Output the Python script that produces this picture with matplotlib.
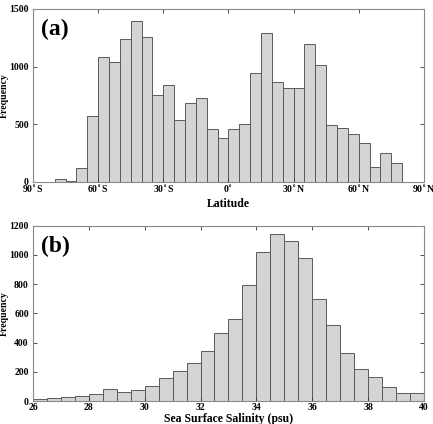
import numpy as np
import matplotlib.pyplot as plt

plt.rcParams['font.family'] = ['Liberation Serif', 'DejaVu Serif']
plt.rcParams['font.weight'] = 'bold'

# latitude histogram, 5 degree bins from 80S to 80N
lat_edges = np.arange(-80, 81, 5)
lat_counts = [26, 9, 124, 571, 1082, 1044, 1237, 1399, 1258, 756, 842, 539,
              681, 727, 456, 381, 462, 505, 943, 1289, 865, 813, 813, 1199,
              1015, 493, 470, 412, 335, 130, 248, 167]
lat_ticks = [-90, -60, -30, 0, 30, 60, 90]
lat_labels = ['90$^{\\circ}$S', '60$^{\\circ}$S', '30$^{\\circ}$S', '0$^{\\circ}$',
              '30$^{\\circ}$N', '60$^{\\circ}$N', '90$^{\\circ}$N']

# salinity histogram, 0.5 psu bins
sss_edges = np.arange(26, 40.01, 0.5)
sss_counts = [16, 23, 30, 37, 50, 80, 62, 73, 103, 155, 205, 258, 342, 465,
              561, 794, 1020, 1141, 1093, 979, 700, 518, 331, 221, 167, 96, 57, 57]

fig = plt.figure(figsize=(4.33, 4.24), dpi=100)
ax1 = fig.add_axes([0.0762, 0.5708, 0.9028, 0.408])
ax2 = fig.add_axes([0.0762, 0.0542, 0.9028, 0.4135])

def style(ax):
    ax.tick_params(direction='in', top=True, right=True, labelsize=7,
                   length=3, width=0.6, colors='#333333')
    ax.tick_params(axis='x', pad=1.5)
    ax.tick_params(axis='y', pad=3)
    for s in ax.spines.values():
        s.set_color('#888888')
        s.set_linewidth(0.8)
    for lab in ax.get_xticklabels() + ax.get_yticklabels():
        lab.set_fontweight('bold')
        lab.set_color('black')

centers = (lat_edges[:-1] + lat_edges[1:]) / 2
ax1.hist(centers, bins=lat_edges, weights=lat_counts, color='#d4d4d4',
         edgecolor='#5a5a5a', linewidth=0.7)
ax1.set_xlim(-90, 90)
ax1.set_ylim(0, 1500)
ax1.set_xticks(lat_ticks)
ax1.set_xticklabels(lat_labels)
ax1.set_yticks([0, 500, 1000, 1500])
ax1.set_xlabel('Latitude', fontsize=8.5, fontweight='bold', labelpad=1)
ax1.set_ylabel('Frequency', fontsize=7, fontweight='bold', labelpad=0.5)
ax1.text(0.02, 0.94, '(a)', transform=ax1.transAxes, fontsize=17,
         fontweight='bold', va='top', ha='left')
style(ax1)

centers2 = (sss_edges[:-1] + sss_edges[1:]) / 2
ax2.hist(centers2, bins=sss_edges, weights=sss_counts, color='#d4d4d4',
         edgecolor='#5a5a5a', linewidth=0.7)
ax2.set_xlim(26, 40)
ax2.set_ylim(0, 1200)
ax2.set_xticks(np.arange(26, 41, 2))
ax2.set_yticks(np.arange(0, 1201, 200))
ax2.set_xlabel('Sea Surface Salinity (psu)', fontsize=8.5, fontweight='bold', labelpad=0.5)
ax2.set_ylabel('Frequency', fontsize=7, fontweight='bold', labelpad=0.5)
ax2.text(0.02, 0.94, '(b)', transform=ax2.transAxes, fontsize=17,
         fontweight='bold', va='top', ha='left')
style(ax2)

fig.savefig('out.png', dpi=100)
